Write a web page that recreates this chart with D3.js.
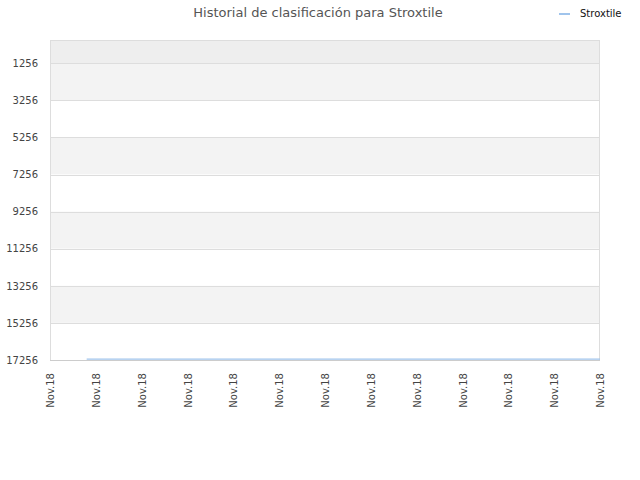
<!DOCTYPE html>
<html><head><meta charset="utf-8">
<script src="https://cdn.jsdelivr.net/npm/d3@7"></script>
<style>body{margin:0;background:#fff}svg{display:block}text{font-family:"DejaVu Sans",sans-serif}</style>
</head><body><svg id="c" width="640" height="480"></svg>
<script>
const title = "Historial de clasificación para Stroxtile";
const seriesName = "Stroxtile";
const xTickLabels = ["Nov.18","Nov.18","Nov.18","Nov.18","Nov.18","Nov.18","Nov.18","Nov.18","Nov.18","Nov.18","Nov.18","Nov.18","Nov.18"];
const yTicks = [1256,3256,5256,7256,9256,11256,13256,15256,17256];
const pointX = [0.8,1,2,3,4,5,6,7,8,9,10,11,12];
const pointRank = [17210,17210,17210,17210,17210,17210,17210,17210,17210,17210,17210,17210,17210];

const svg = d3.select("#c");
const L=50,R=600,T=40,B=360;
const x = d3.scaleLinear().domain([0,12]).range([L,R]);
const y = d3.scaleLinear().domain([1,17256]).range([T,B]);

// bands
svg.append("rect").attr("x",L).attr("y",T).attr("width",R-L).attr("height",y(yTicks[0])-T).attr("fill","#eeeeee");
for(let i=0;i<yTicks.length-1;i++){
  svg.append("rect").attr("x",L).attr("y",y(yTicks[i])).attr("width",R-L)
    .attr("height",y(yTicks[i+1])-y(yTicks[i])).attr("fill", i%2===0?"#f3f3f3":"#ffffff");
}
// grid lines
yTicks.forEach(t=>{
  svg.append("line").attr("x1",L).attr("x2",R).attr("y1",Math.round(y(t))+0.5).attr("y2",Math.round(y(t))+0.5)
    .attr("stroke","#dddddd").attr("stroke-width",1);
});
// frame
svg.append("rect").attr("x",L+0.5).attr("y",T+0.5).attr("width",R-L-1).attr("height",B-T).attr("fill","none").attr("stroke","#dddddd");

// y axis
const yAxis = d3.axisLeft(y).tickValues(yTicks).tickFormat(d3.format("d")).tickSize(0).tickPadding(12);
const gy = svg.append("g").attr("transform",`translate(${L},0)`).call(yAxis);
gy.select(".domain").remove();
gy.selectAll("text").attr("font-size",10).attr("fill","#444").style("font-family","DejaVu Sans");

// x axis
const xAxis = d3.axisBottom(x).tickValues(d3.range(xTickLabels.length)).tickFormat(i=>xTickLabels[i]).tickSize(0);
const gx = svg.append("g").attr("transform",`translate(0,${B})`).call(xAxis);
gx.select(".domain").remove();
gx.selectAll("text").attr("font-size",10).attr("fill","#444").style("font-family","DejaVu Sans")
  .attr("text-anchor","end").attr("x",-13).attr("y",0).attr("dy","0.35em").attr("transform","rotate(-90)");

// bottom axis line
svg.append("line").attr("x1",L).attr("x2",R).attr("y1",B+0.5).attr("y2",B+0.5).attr("stroke","#cccccc");

// line
const line = d3.line().x((d,i)=>x(pointX[i])).y((d)=>y(d));
svg.append("path").datum(pointRank).attr("d",line).attr("fill","none").attr("stroke","#a0c4ec").attr("stroke-width",1.2);

// title
svg.append("text").attr("x",318).attr("y",17).attr("text-anchor","middle").attr("font-size",13).attr("fill","#555").text(title);
// legend
svg.append("line").attr("x1",559).attr("x2",570).attr("y1",14).attr("y2",14).attr("stroke","#a0c4ec").attr("stroke-width",2);
svg.append("text").attr("x",580).attr("y",16.5).attr("font-size",10).attr("fill","#111").text(seriesName);
</script></body></html>
